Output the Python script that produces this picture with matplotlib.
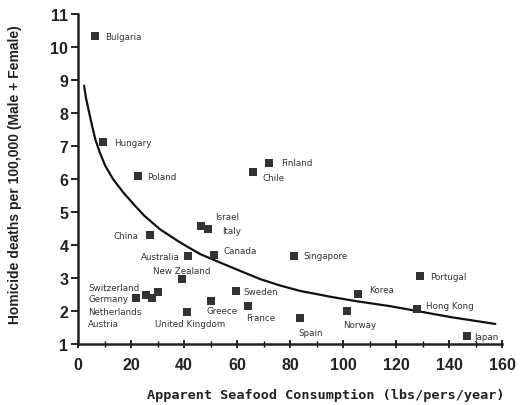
import matplotlib
matplotlib.use("Agg")
import matplotlib.pyplot as plt

# ---- data ----
countries = ["Bulgaria", "Hungary", "Poland", "Finland", "Chile", "China",
             "Israel", "Italy", "Australia", "Canada", "New Zealand",
             "Switzerland", "Germany", "Netherlands", "Austria",
             "United Kingdom", "Greece", "Sweden", "France", "Singapore",
             "Spain", "Norway", "Korea", "Portugal", "Hong Kong", "Japan"]
seafood = [6.4, 9.4, 22.6, 72.0, 66.0, 27.2,
           46.4, 49.1, 41.5, 51.3, 39.2,
           30.3, 21.9, 25.6, 28.0,
           41.0, 50.2, 59.6, 64.2, 81.5,
           83.8, 101.5, 105.7, 129.0, 127.9, 146.8]
homicide = [10.33, 7.12, 6.09, 6.50, 6.20, 4.30,
            4.58, 4.48, 3.67, 3.70, 2.97,
            2.58, 2.39, 2.48, 2.39,
            1.97, 2.30, 2.60, 2.15, 3.67,
            1.79, 2.00, 2.52, 3.06, 2.06, 1.24]

# trend curve
curve_x = [2.3, 3.1, 4.2, 5.3, 6.5, 8.2, 10.3, 13.2, 17.0, 21.4, 25.0,
           30.9, 38.5, 46.0, 53.6, 61.1, 68.7, 76.0, 83.8, 96.2, 105.0,
           117.7, 128.0, 140.4, 157.4]
curve_y = [8.83, 8.42, 8.02, 7.62, 7.21, 6.81, 6.40, 6.00, 5.60, 5.20, 4.89,
           4.48, 4.08, 3.73, 3.47, 3.22, 2.97, 2.78, 2.61, 2.42, 2.30,
           2.15, 2.00, 1.82, 1.61]

x_ticks = [0, 20, 40, 60, 80, 100, 120, 140, 160]
y_ticks = [1, 2, 3, 4, 5, 6, 7, 8, 9, 10, 11]

# ---- label placement (pixels relative to marker, ha) ----
label_pos = {
    "Bulgaria": (10, 0, "left"), "Hungary": (11, 0, "left"),
    "Poland": (9, 0, "left"), "Finland": (12, 0, "left"),
    "Chile": (10, -5, "left"), "China": (-12, 0, "right"),
    "Israel": (14, 9, "left"), "Italy": (14, -1, "left"),
    "Australia": (-8, -1, "right"), "Canada": (9, 4, "left"),
    "New Zealand": (0, 9, "center"),
    "Switzerland": (-70, 4, "left"), "Germany": (-48, 0, "left"),
    "Netherlands": (-58, -16, "left"), "Austria": (-64, -25, "left"),
    "United Kingdom": (3, -11, "center"), "Greece": (-5, -9, "left"),
    "Sweden": (7, 0, "left"), "France": (-2, -11, "left"),
    "Singapore": (9, 0, "left"), "Spain": (10, -14, "center"),
    "Norway": (-4, -13, "left"), "Korea": (11, 4, "left"),
    "Portugal": (10, 0, "left"), "Hong Kong": (9, 4, "left"),
    "Japan": (7, 0, "left"),
}

fig = plt.figure(figsize=(5.27, 4.06), dpi=100)
ax = fig.add_axes([0.148, 0.150, 0.805, 0.813])

ax.plot(curve_x, curve_y, color="#111111", lw=1.6, solid_capstyle="round",
        solid_joinstyle="round", zorder=2)
ax.scatter(seafood, homicide, marker="s", s=28, color="#333333", zorder=3,
           linewidths=0)

for name, x, y in zip(countries, seafood, homicide):
    dx, dy, ha = label_pos[name]
    ax.annotate(name, (x, y), xytext=(dx, dy), textcoords="offset pixels",
                ha=ha, va="center", fontsize=6.3, color="#333333",
                family="DejaVu Sans")

ax.set_xlim(0, 160)
ax.set_ylim(1, 11)
ax.set_xticks(x_ticks)
ax.set_yticks(y_ticks)
ax.set_xticks(range(10, 160, 20), minor=True)
for s in ["top", "right"]:
    ax.spines[s].set_visible(False)
for s in ["left", "bottom"]:
    ax.spines[s].set_linewidth(1.8)
    ax.spines[s].set_color("#222222")

ax.tick_params(axis="y", direction="out", length=5, width=1.2, pad=2,
               labelsize=11.5)
ax.tick_params(axis="x", direction="inout", length=6, width=1.2, pad=6,
               labelsize=11.5)
ax.tick_params(axis="x", which="minor", direction="inout", length=4, width=1.0)
for lab in ax.get_xticklabels() + ax.get_yticklabels():
    lab.set_fontweight("bold")
    lab.set_family("Liberation Sans")
    lab.set_color("#222222")

fig.text(0.619, 0.027, "Apparent Seafood Consumption (lbs/pers/year)",
         ha="center", va="center", fontsize=9.7, fontweight="bold",
         family="DejaVu Sans Mono", color="#222222")
fig.text(0.028, 0.57, "Homicide deaths per 100,000 (Male + Female)",
         ha="center", va="center", rotation=90, fontsize=10,
         fontweight="bold", family="Liberation Sans", color="#222222")

fig.savefig("out.png", dpi=100)
